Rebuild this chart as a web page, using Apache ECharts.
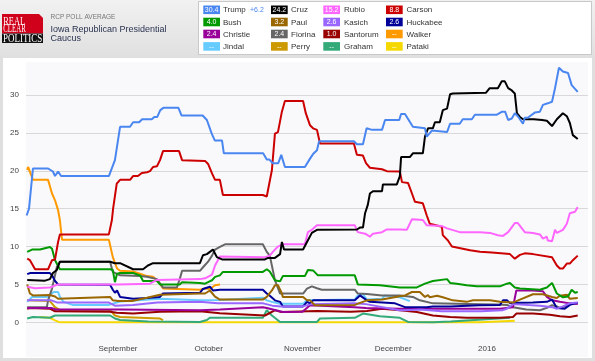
<!DOCTYPE html>
<html><head><meta charset="utf-8">
<script src="https://cdn.jsdelivr.net/npm/echarts@6/dist/echarts.min.js"></script>
<style>html,body{margin:0;padding:0;background:#dfdfdf}#c{width:595px;height:361px}</style>
</head><body><div id="c"></div><script>
// Data: [days since 2015-09-01, RCP average %]
const trump = [[-30.2,14.1],[-29.4,15.0],[-28.8,15.0],[-28.1,20.3],[-23.1,20.3],[-21.5,19.9],[-20.8,19.3],[-19.8,19.9],[-18.8,19.3],[-3,19.3],[-1,21.4],[0.7,25.8],[4,25.8],[5,26.4],[7,26.4],[8,26.8],[11.2,26.8],[12,27.1],[13,27.1],[14,28.0],[15,28.3],[20,28.3],[21,27.3],[28,27.3],[29.4,26.7],[31,24.9],[32,24.0],[34.4,24.0],[35,22.3],[48,22.3],[49.2,21.5],[50,21.5],[51.2,21.0],[53,21.0],[54,22.1],[55.2,20.5],[61.8,20.5],[63.5,21.6],[64.5,22.2],[65.8,22.7],[66.5,23.9],[78,23.9],[79,23.5],[81,23.5],[82.2,25.6],[84,25.4],[87.3,25.4],[88.3,26.7],[93,26.7],[93.6,27.5],[94.9,27.5],[97.5,25.8],[101.5,25.6],[102.1,24.5],[103.8,25.3],[108.8,25.1],[109.8,26.2],[113,26.2],[114,26.8],[117,26.8],[118,27.4],[125.3,27.4],[127,27.8],[128,27.8],[129,26.7],[130.2,26.9],[131.2,27.6],[132.2,27.2],[133.9,26.2],[134.5,27.0],[135.5,27.0],[137.9,27.7],[139.5,27.8],[140.5,28.7],[142.1,28.9],[143.5,29.1],[144.5,30.9],[145.8,33.6],[147.1,33.1],[148.8,32.9],[150,31.3],[152,30.4]];
const cruz = [[-30,5.6],[-24.1,5.5],[-22.5,5.7],[-21.5,6.5],[-20.2,6.9],[-19.2,8.0],[-2.6,8.0],[-1,7.8],[0.7,7.8],[5,7.0],[8.3,7.0],[9.9,7.5],[11.6,7.8],[27.1,7.8],[28.1,8.85],[29.4,9.0],[30.4,9.3],[31.4,9.6],[32.7,8.6],[34.4,8.3],[48.6,8.3],[49.6,8.5],[51.9,8.5],[53.6,9.0],[54.2,10.6],[54.9,9.6],[61.2,9.6],[62.5,10.6],[64.1,11.8],[65.8,12.2],[79,12.25],[80,12.5],[81,12.5],[81.7,14.4],[82.6,15.5],[83.3,17.0],[84.3,17.3],[87.3,17.3],[87.6,18.2],[92.2,18.2],[93.2,19.3],[93.6,21.8],[96.5,21.8],[97.5,22.3],[100.8,22.3],[101.5,24.5],[102.5,25.6],[104.1,25.6],[104.8,26.4],[106.4,26.4],[107.4,28.0],[108.8,28.2],[109.8,30.1],[110.7,30.2],[121.7,30.3],[122.9,30.9],[125.6,30.9],[126.9,31.8],[127.9,31.8],[129,30.9],[130.2,30.6],[131.2,30.2],[131.9,27.6],[132.9,27.1],[133.9,26.8],[137.5,26.8],[140.2,26.7],[141.8,26.6],[143.5,25.9],[145.1,26.8],[147.1,27.6],[148.4,27.2],[149.4,26.3],[150.4,24.7],[152,24.2]];
const rubio = [[-30,4.7],[-27.4,4.5],[-22.5,4.6],[-19.8,5.0],[0,5.0],[10.6,5.1],[12.9,5.6],[27.1,5.7],[28.8,5.8],[31.1,6.3],[32.1,7.5],[33.7,8.7],[48.6,8.6],[50.2,8.8],[51.2,9.3],[52.9,10.0],[54.5,10.3],[61.8,10.3],[62.8,11.9],[64.1,12.2],[65.8,12.8],[78.3,12.8],[79.3,11.9],[81.7,11.7],[83.3,11.3],[84.3,11.7],[87.3,11.9],[88.9,12.25],[93.2,12.25],[95.5,12.2],[97.2,13.6],[100.8,13.5],[102.1,12.8],[107.1,12.7],[108.8,12.4],[113,11.9],[119.7,11.9],[123,11.8],[125.6,11.5],[127.3,11.4],[129,11.9],[131.2,13.1],[132.2,13.1],[134.5,11.9],[137.2,11.8],[139.5,11.6],[140.5,11.05],[141.8,11.3],[142.1,10.8],[143.5,10.7],[144.5,12.2],[145.1,11.8],[147.1,12.2],[148.4,13.0],[149.4,14.4],[151.1,14.6],[152,15.2]];
const carson = [[-30,8.4],[-29.1,8.2],[-28.1,7.5],[-27.4,7.0],[-23.1,7.0],[-21.8,8.2],[-20.8,8.3],[-19.8,10.6],[-19.2,11.6],[-3,11.6],[-2,13.5],[-1.6,15.0],[-0.4,18.3],[0.7,18.8],[4,18.8],[5,19.3],[6.6,19.3],[7.9,19.7],[9.6,19.8],[10.6,19.95],[11.6,20.5],[12.9,20.6],[13.9,21.4],[14.9,22.6],[20.2,22.6],[21.2,21.4],[28.8,21.3],[29.8,20.9],[31.1,19.65],[32.1,18.8],[33.7,18.8],[34.7,16.8],[47.9,16.8],[49.2,16.6],[49.6,16.6],[50.9,20.1],[51.9,24.9],[52.9,25.1],[54.2,27.8],[55.2,29.2],[61.2,29.2],[62.1,27.6],[63.5,26.0],[64.5,25.6],[65.8,25.4],[66.8,23.6],[78,23.6],[79,22.1],[81,22.0],[82,21.0],[83.3,20.4],[87.3,20.2],[88.9,19.95],[93.2,19.9],[93.9,18.5],[95.9,18.4],[97.2,17.0],[98.2,15.9],[100.8,15.7],[102.1,14.1],[103.1,13.0],[107.1,12.6],[107.4,11.5],[109.1,10.8],[110.4,10.0],[116.4,9.5],[119.7,9.3],[123.6,9.2],[129.6,9.0],[131.2,8.4],[132.9,8.9],[134.5,9.1],[137.2,9.0],[143.5,8.6],[145.1,7.5],[146.1,7.1],[147.1,7.1],[148.4,7.75],[149.4,7.75],[150.4,8.2],[152,8.8]];
const bush = [[-30,9.3],[-28.4,9.6],[-25.8,9.6],[-22.5,9.95],[-21.8,9.7],[-20.8,8.2],[-19.2,7.0],[-2.6,7.0],[-1.7,6.9],[-1,5.3],[-0.3,6.4],[0.7,6.5],[5,6.5],[7.3,6.2],[8.3,5.45],[12.9,5.45],[13.9,5.0],[20.5,5.0],[21.2,5.3],[27.1,5.2],[28.8,5.1],[29.8,5.3],[31.1,5.55],[32.1,6.0],[33.7,6.2],[34.7,6.65],[47.9,6.65],[49.2,7.0],[50.2,6.7],[51.9,5.55],[53.6,5.4],[54.5,6.1],[61.8,6.1],[62.8,6.9],[64.5,6.85],[66.1,6.2],[78.3,6.2],[79.3,5.0],[86.6,4.9],[93.2,4.6],[98.8,4.6],[101.5,5.1],[104.1,5.45],[108.8,5.7],[109.8,5.2],[112,5.1],[115.3,4.9],[118.6,4.75],[126.3,4.75],[128.6,5.1],[129.6,5.2],[131.2,4.6],[132.9,4.45],[139.5,4.3],[141.8,4.6],[143.5,5.2],[145.1,3.8],[147.1,3.3],[148.8,3.4],[150,4.3],[151.1,3.9],[152,4.0]];
const paul = [[-30,5.0],[-29.1,3.8],[-28.1,3.55],[-22.5,3.6],[-20.8,3.4],[-19.8,3.1],[-19.2,3.35],[-2.6,3.35],[-1.7,2.9],[0,2.8],[4.6,2.8],[5,3.0],[9.6,3.25],[13.9,3.65],[27.1,3.8],[28.8,3.8],[30.4,4.2],[32.1,3.4],[33.7,3.0],[47.9,3.0],[49.2,3.35],[50.9,4.2],[51.9,4.9],[52.9,4.9],[54.2,3.8],[54.5,3.35],[61.2,3.35],[62.5,2.9],[63.5,2.9],[65.1,2.25],[78.3,2.3],[82.3,2.9],[87.3,3.0],[93.2,3.45],[94.9,3.55],[97.2,4.0],[99.8,4.0],[101.5,3.35],[102.5,3.6],[103.1,3.3],[105.5,3.5],[107.4,3.3],[110.7,2.9],[115.3,2.7],[117.4,2.9],[123,2.9],[126.3,2.7],[130.6,2.6],[132.9,3.0],[137.2,3.7],[140.5,3.7],[143.5,3.35],[145.1,3.2],[146.1,3.5],[148.4,3.65],[149.4,3.1],[152,3.2]];
const kasich = [[-30,2.9],[-22,2.9],[-20,2.6],[-3,2.6],[-1,2.2],[5,2.3],[13,2.6],[27,2.7],[33,2.5],[48,2.5],[51,2.2],[54,2.1],[61,2.1],[64,2.4],[78,2.5],[82,2.4],[93,1.6],[95,1.6],[100,1.7],[107,1.45],[120,1.45],[127,1.6],[128.6,1.8],[130.6,2.4],[139.5,2.2],[143.5,2.0],[145.1,1.8],[147.1,2.1],[149.4,2.5],[152,2.6]];
const huckabee = [[-30,6.35],[-29.1,6.5],[-22.5,6.5],[-21.8,6.2],[-20.8,5.45],[-19.8,5.0],[-2.6,4.95],[-1.7,4.3],[-1,3.9],[-0.3,4.2],[0.7,3.35],[5,3.1],[9.6,3.2],[13.9,3.35],[14.9,3.8],[27.1,3.9],[28.1,4.4],[30.4,4.7],[31.4,4.2],[33.7,4.3],[47.9,4.3],[49.2,3.8],[50.2,3.5],[51.9,2.9],[53.6,2.7],[54.5,2.1],[61.2,2.1],[62.5,2.7],[63.5,2.5],[64.5,2.9],[78.3,2.9],[80,3.55],[82.3,2.9],[83.3,2.7],[91.6,2.5],[94.9,2.0],[102.1,2.0],[104.1,2.1],[109.8,2.1],[119.4,2.25],[126.3,2.3],[127.3,2.9],[128.6,2.9],[129.6,2.55],[137.2,2.6],[141.8,2.7],[143.5,3.0],[145.1,1.9],[147.7,1.8],[149.4,2.3],[152,2.6]];
const christie = [[-30,1.9],[-22,1.9],[-20.5,1.7],[0.7,1.7],[27.1,1.6],[33.7,1.7],[47.9,2.0],[49.2,1.9],[54.5,1.35],[61,1.4],[63.5,2.25],[78.3,2.0],[82,1.9],[93.2,1.8],[115.3,1.8],[126.3,1.8],[130.6,2.0],[131.7,4.2],[137.2,4.2],[140.5,4.1],[141.8,3.35],[143.5,2.9],[146.1,2.7],[149.4,2.5],[152,2.4]];
const fiorina = [[-30,2.0],[-23.5,2.0],[-23.1,2.9],[-21.8,4.45],[-20.2,7.3],[-19.2,8.0],[-2.6,8.0],[-1.7,6.65],[0.7,6.2],[7.3,6.1],[9.6,6.0],[12.9,5.7],[13.9,5.1],[14.9,4.6],[19.5,4.6],[20.5,5.8],[21.2,6.8],[27.1,6.8],[28.2,7.3],[29.8,8.0],[31.1,8.8],[32.1,9.6],[33.7,9.95],[35.4,10.3],[47.9,10.3],[49.2,9.3],[50.2,8.8],[51.9,5.55],[53.6,3.8],[61.2,3.8],[62.5,4.45],[64.1,4.75],[65.8,4.5],[67.4,4.3],[78.3,4.3],[79.3,3.8],[82.3,3.75],[87.3,3.55],[93.2,3.55],[97.5,3.35],[99.8,2.9],[104.1,2.5],[119.7,2.4],[125.3,2.35],[128.6,2.3],[130.6,2.0],[131.2,1.8],[135,1.7],[139.5,1.6],[141.8,1.9],[143.5,2.25],[145.1,2.1],[146.1,1.9],[147.7,2.1],[149.4,2.5],[152,2.5]];
const santorum = [[-30,1.8],[-29,1.9],[-22.5,1.8],[-20.8,1.45],[-2.6,1.4],[-0.4,1.25],[5,1.15],[13.9,1.4],[27.1,1.45],[33.7,1.2],[48.6,0.9],[52,1.6],[54,1.35],[65.8,1.5],[77,1.4],[82.3,1.5],[87.3,1.8],[93.2,1.6],[98.8,1.35],[104.1,0.9],[109.8,0.7],[115.3,0.6],[126.3,0.6],[130.6,0.7],[131.7,1.15],[137.2,1.15],[142.8,1.0],[146.1,0.8],[149.4,0.7],[152,0.9]];
const walker = [[-30,20.1],[-29.7,20.5],[-29.1,20.5],[-28.1,18.8],[-23.1,18.8],[-21.8,17.0],[-20.8,16.1],[-19.8,14.8],[-19.2,13.5],[-18.5,10.9],[-3,10.9],[-1.7,8.6],[-0.3,7.1],[0.7,6.8],[5,6.7],[7.3,6.4],[9.6,6.1],[11.6,6.0],[12.9,5.55],[13.9,5.1],[14.9,4.45],[27.1,4.3],[28.8,4.45],[30.4,4.4],[32.1,4.9],[33.7,5.0]];
const jindal = [[-30,2.7],[-28.4,3.35],[-23.5,3.35],[-21.2,4.0],[-19.8,4.0],[-19.2,3.35],[-18,2.7],[-15,2.3],[-3,2.3],[0.7,2.75],[13.9,3.1],[27.1,2.9],[33.7,2.95],[47.9,3.25],[49.2,2.9],[50.9,2.7],[53.6,2.45],[61.2,2.45],[62.5,2.9],[78.3,3.0],[79.3,3.55],[81,3.7],[82.3,3.0],[87.3,3.1],[88.3,3.55],[93.2,3.3],[96.5,2.8]];
const perry = [[-30,2.9],[-22.5,2.8],[-20.8,2.0],[-19.2,1.6],[-2.6,1.6],[-1,0.9],[0.7,0.7],[13.9,0.5],[14.9,0.3]];
const graham = [[-30,0.5],[-28.1,0.7],[-22.5,0.6],[-20.8,0.9],[-2.6,0.9],[-1,0.5],[0.7,0.3],[10,0.1],[27.1,0.05],[29.4,0.3],[30.4,0.6],[47.9,0.6],[49.2,1.6],[50.9,0.9],[53.6,0.05],[65.8,0.05],[66.8,0.5],[78.3,0.6],[81,1.15],[86.6,0.8],[93.2,0.6],[95.9,0.05],[104.1,0.0],[110,0.1],[129.6,0.6]];
const pataki = [[-26,0.7],[-22.5,0.6],[-20.8,0.25],[-19.2,0.0],[120,0.0],[131.2,0.2]];

const yTicks = [0, 5, 10, 15, 20, 25, 30];
const monthNames = ['January','February','March','April','May','June','July','August','September','October','November','December'];

// legend table: name, value text, change text
const legendNames = [['Trump','Cruz','Rubio','Carson'],['Bush','Paul','Kasich','Huckabee'],['Christie','Fiorina','Santorum','Walker'],['Jindal','Perry','Graham','Pataki']];
const legendValues = [['30.4','24.2','15.2','8.8'],['4.0','3.2','2.6','2.6'],['2.4','2.4','1.0','--'],['--','--','--','--']];
const trumpChange = '+6.2';

const colors = {Trump:'#4a86f0',Cruz:'#000000',Rubio:'#ff66ff',Carson:'#cc0000',Bush:'#009900',Paul:'#996600',Kasich:'#9966ff',Huckabee:'#000099',Christie:'#990099',Fiorina:'#666666',Santorum:'#990000',Walker:'#ff9900',Jindal:'#66ccff',Perry:'#cc9900',Graham:'#33aa77',Pataki:'#f5d800'};
const seriesData = {Trump:trump,Cruz:cruz,Rubio:rubio,Carson:carson,Bush:bush,Paul:paul,Kasich:kasich,Huckabee:huckabee,Christie:christie,Fiorina:fiorina,Santorum:santorum,Walker:walker,Jindal:jindal,Perry:perry,Graham:graham,Pataki:pataki};
const drawOrder = ['Pataki','Graham','Perry','Jindal','Walker','Santorum','Fiorina','Christie','Huckabee','Kasich','Paul','Bush','Carson','Rubio','Cruz','Trump'];

const BASE = new Date(2015, 8, 1).getTime();
const DAY = 86400000;
const toT = d => BASE + d * DAY;

const SANS = 'Liberation Sans, Arial, sans-serif';
const ctx = document.createElement('canvas').getContext('2d');
function fitText(str, x, yc, targetW, size) {
  ctx.font = size + 'px "Liberation Serif"';
  const w = ctx.measureText(str).width || targetW;
  return {type:'text', x:x, y:yc, scaleX: targetW / w, z: 20, silent:true,
    style:{text:str, fill:'#fff', font: size + 'px "Liberation Serif", serif', textAlign:'left', textVerticalAlign:'middle'}};
}

const graphics = [
  {type:'rect', z:-20, silent:true, shape:{x:0,y:0,width:595,height:57},
    style:{fill:{type:'linear',x:0,y:0,x2:0,y2:1,colorStops:[{offset:0,color:'#f1f1f1'},{offset:1,color:'#e0e0e0'}]}}},
  {type:'rect', z:-19, silent:true, shape:{x:3,y:58,width:589,height:300}, style:{fill:'#ffffff'}},
  {type:'rect', z:-18, silent:true, shape:{x:26,y:62,width:562,height:295}, style:{fill:'#f9f9fc'}},
  // logo
  {type:'polygon', z:19, silent:true, shape:{points:[[2,14],[39,14],[43,18],[43,33.5],[2,33.5]]}, style:{fill:'#d0021b'}},
  {type:'rect', z:19, silent:true, shape:{x:2,y:33.5,width:41,height:9.5}, style:{fill:'#111'}},
  fitText('REAL', 3.3, 21.6, 21.7, 11.5),
  fitText('CLEAR', 3.3, 29.2, 22.4, 11.5),
  fitText('POLITICS', 3, 38.6, 39.3, 11.5),
  {type:'text', z:20, silent:true, x:50.5, y:17.6, style:{text:'RCP POLL AVERAGE', fill:'#777', font:'6.5px '+SANS, textVerticalAlign:'middle'}},
  {type:'text', z:20, silent:true, x:50.5, y:29.3, style:{text:'Iowa Republican Presidential', fill:'#2a3350', font:'9px '+SANS, textVerticalAlign:'middle'}},
  {type:'text', z:20, silent:true, x:50.5, y:38.6, style:{text:'Caucus', fill:'#2a3350', font:'9px '+SANS, textVerticalAlign:'middle'}},
  // legend box
  {type:'rect', z:19, silent:true, shape:{x:198.5,y:1.5,width:393,height:53}, style:{fill:'#fff', stroke:'#c8c8c8', lineWidth:1}}
];
const chipX = [203.3, 271, 323.3, 386];
const textX = [223, 291, 344, 406.5];
const rowY = [9.8, 22, 34, 46.4];
legendNames.forEach((row, r) => row.forEach((name, c) => {
  graphics.push({type:'rect', z:20, silent:true, shape:{x:chipX[c], y:rowY[r]-4.3, width:16.7, height:8.6}, style:{fill:colors[name]}});
  graphics.push({type:'text', z:21, silent:true, x:chipX[c]+8.35, y:rowY[r]+0.3, style:{text:legendValues[r][c], fill:'#fff', font:'7px '+SANS, textAlign:'center', textVerticalAlign:'middle'}});
  graphics.push({type:'text', z:21, silent:true, x:textX[c], y:rowY[r]+0.3, style:{text:name, fill:'#333', font:'8px '+SANS, textAlign:'left', textVerticalAlign:'middle'}});
}));
graphics.push({type:'text', z:21, silent:true, x:250, y:rowY[0]+0.3, style:{text:trumpChange, fill:'#4a86f0', font:'7px '+SANS, textAlign:'left', textVerticalAlign:'middle'}});

const chart = echarts.init(document.getElementById('c'), null, {renderer:'canvas'});
chart.setOption({
  animation: false,
  backgroundColor: '#dfdfdf',
  graphic: graphics,
  grid: {left: 26, right: 7, top: 57.1, bottom: 0.8, containLabel: false},
  xAxis: {
    type: 'time', min: toT(-30.4), max: toT(155.4), splitNumber: 6,
    minInterval: 28 * DAY, maxInterval: 31 * DAY,
    axisLine: {show: false}, axisTick: {show: false}, splitLine: {show: false},
    axisLabel: {inside: true, margin: 7, fontSize: 8, color: '#444', fontFamily: SANS,
      showMinLabel: false, showMaxLabel: false,
      formatter: function (v) { const d = new Date(v); const m = d.getMonth(); if (m === 1) return ''; return m === 0 ? String(d.getFullYear()) : monthNames[m]; }}
  },
  yAxis: {
    type: 'value', min: -5, max: 35, interval: 5,
    axisLine: {show: false}, axisTick: {show: false},
    splitLine: {show: true, showMinLine: false, showMaxLine: false, lineStyle: {color: '#d8d8d8', width: 1}},
    axisLabel: {fontSize: 8, color: '#444', margin: 7, fontFamily: SANS,
      formatter: v => yTicks.indexOf(v) >= 0 ? String(v) : ''}
  },
  series: drawOrder.map(name => ({
    type: 'line', name: name, silent: true, symbol: 'none', showSymbol: false, smooth: false,
    lineStyle: {width: 2, color: colors[name]}, itemStyle: {color: colors[name]},
    emphasis: {disabled: true},
    data: seriesData[name].map(p => [toT(p[0]), p[1]])
  }))
});
</script></body></html>
